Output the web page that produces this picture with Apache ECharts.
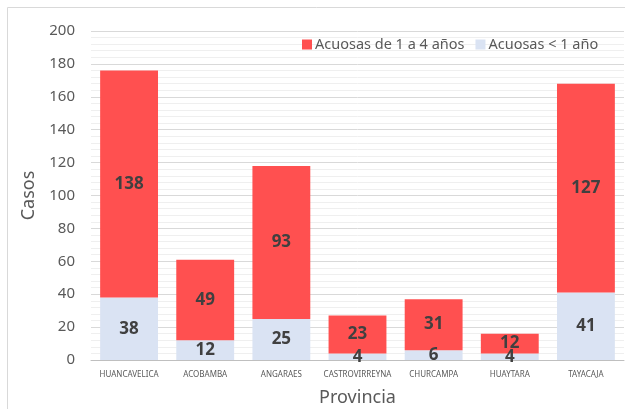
<!DOCTYPE html>
<html>
<head>
<meta charset="utf-8">
<script src="https://cdn.jsdelivr.net/npm/echarts@6/dist/echarts.min.js"></script>
<style>
  html, body { margin: 0; padding: 0; background: #fff; }
  #chart { width: 625px; height: 409px; }
</style>
</head>
<body>
<div id="chart"></div>
<script>
var provincias = ['HUANCAVELICA', 'ACOBAMBA', 'ANGARAES', 'CASTROVIRREYNA', 'CHURCAMPA', 'HUAYTARA', 'TAYACAJA'];
var menor1 = [38, 12, 25, 4, 6, 4, 41];
var de1a4 = [138, 49, 93, 23, 31, 12, 127];

var chart = echarts.init(document.getElementById('chart'));
var font = 'Noto Sans';

var labelStyle = {
  show: true,
  position: 'inside',
  color: '#404040',
  fontFamily: font,
  fontWeight: 'bold',
  fontSize: 17
};

chart.setOption({
  animation: false,
  textStyle: { fontFamily: font },
  graphic: [{
    type: 'rect',
    shape: { x: 7.5, y: 7.5, width: 640, height: 440 },
    style: { fill: 'none', stroke: '#d9d9d9', lineWidth: 1 },
    silent: true,
    z: -1
  }],
  grid: { left: 91, right: 1, top: 31, bottom: 49, outerBoundsMode: 'none', containLabel: false },
  legend: {
    left: 302,
    top: 37,
    padding: 0,
    itemWidth: 10,
    itemHeight: 10,
    itemGap: 11,
    icon: 'rect',
    textStyle: { color: '#595959', fontSize: 14.5, fontFamily: font, padding: [0, 0, 0, -2] },
    data: ['Acuosas de 1 a 4 años', 'Acuosas < 1 año']
  },
  xAxis: {
    type: 'category',
    data: provincias,
    name: 'Provincia',
    nameLocation: 'middle',
    nameGap: 29,
    nameTextStyle: { color: '#595959', fontSize: 18, fontFamily: font },
    axisLine: { lineStyle: { color: '#bfbfbf', width: 1 } },
    axisTick: { show: false },
    axisLabel: { color: '#595959', fontSize: 8, fontFamily: font, margin: 11, interval: 0 }
  },
  yAxis: {
    type: 'value',
    min: 0,
    max: 200,
    interval: 20,
    name: 'Casos',
    nameLocation: 'middle',
    nameGap: 45,
    nameTextStyle: { color: '#595959', fontSize: 18, fontFamily: font },
    axisLine: { show: false },
    axisTick: { show: false },
    axisLabel: { color: '#595959', fontSize: 15, fontFamily: font, margin: 16 },
    splitLine: { lineStyle: { color: '#d9d9d9', width: 1 } },
    minorTick: { show: false, splitNumber: 5 },
    minorSplitLine: { show: true, lineStyle: { color: '#efefef', width: 1 } }
  },
  series: [{
    name: 'Acuosas < 1 año',
    type: 'bar',
    stack: 'total',
    data: menor1,
    barWidth: '76%',
    itemStyle: { color: '#dae3f3' },
    label: labelStyle
  }, {
    name: 'Acuosas de 1 a 4 años',
    type: 'bar',
    stack: 'total',
    data: de1a4,
    barWidth: '76%',
    itemStyle: { color: '#ff5050' },
    label: labelStyle
  }]
});
</script>
</body>
</html>
